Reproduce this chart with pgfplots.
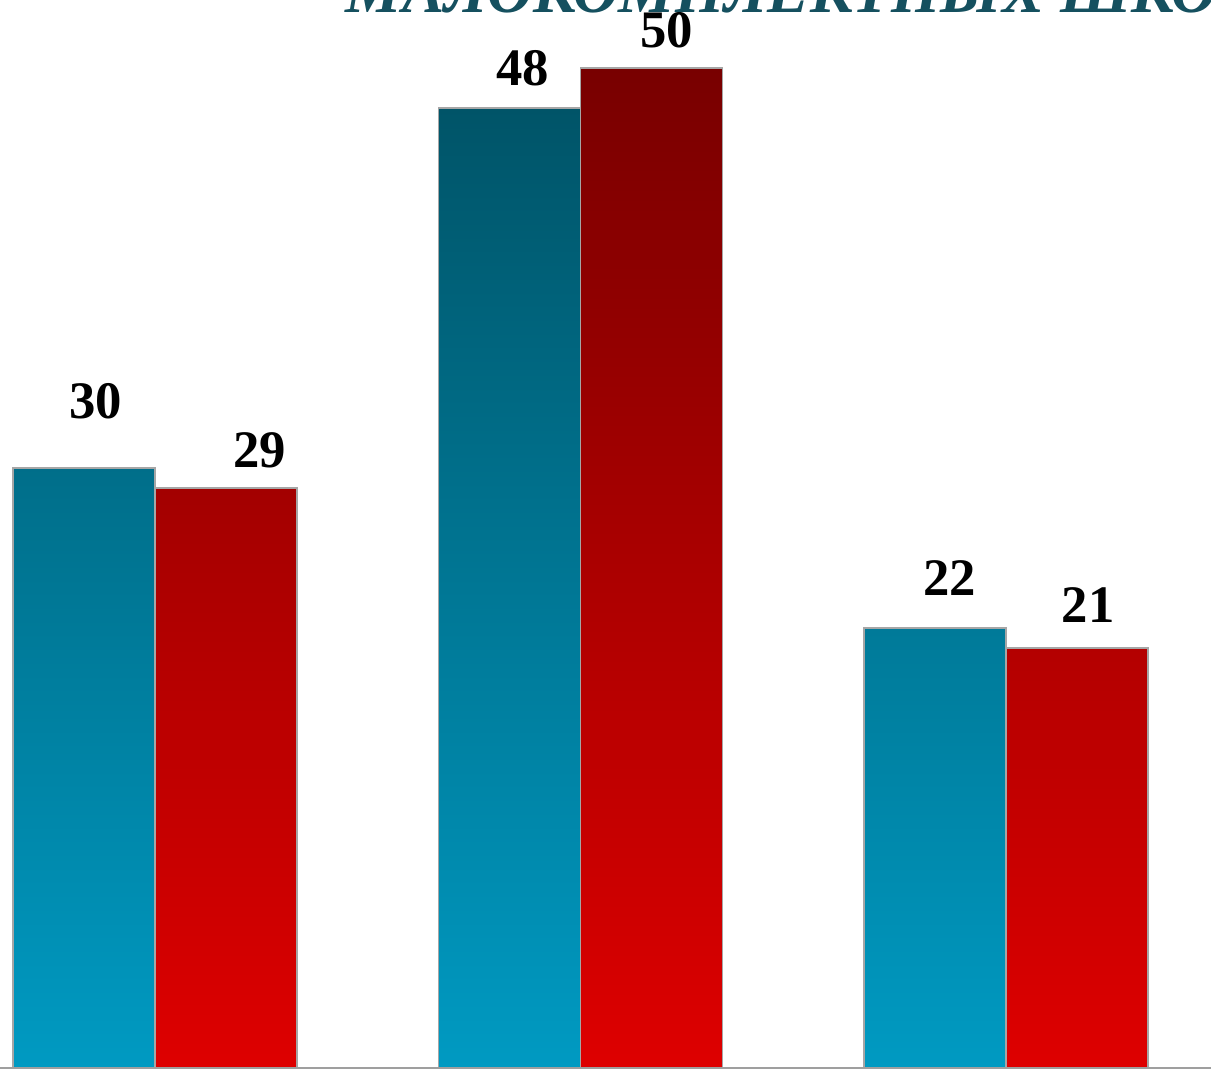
\documentclass[border=0pt]{standalone}
\usepackage{pgfplots}
\pgfplotsset{compat=1.18}
\usepackage{fontspec}
\setmainfont{Liberation Serif}

\definecolor{tealtop}{HTML}{005468}
\definecolor{tealbot}{HTML}{009AC2}
\definecolor{redtop}{HTML}{780000}
\definecolor{redbot}{HTML}{DE0000}
\definecolor{titlecol}{HTML}{15505F}

\begin{document}
\begin{tikzpicture}
  \begin{axis}[
      scale only axis,
      width=12.11cm,
      height=10.71cm,
      hide axis,
      xmin=-0.364, xmax=2.482,
      ymin=-0.15, ymax=53.4,
      ybar=0pt,
      bar width=0.3337,
      clip mode=global,
    ]
    \addplot[bar shift=-0.1669, draw=gray!70, line width=0.4pt,
             top color=tealtop, bottom color=tealbot]
      coordinates {(0,30) (1,48) (2,22)};
    \addplot[bar shift=0.1669, draw=gray!70, line width=0.4pt,
             top color=redtop, bottom color=redbot]
      coordinates {(0,29) (1,50) (2,21)};

    % baseline
    \draw[gray!75, line width=0.8pt] (axis cs:-0.364,0) -- (axis cs:2.482,0);

    % value labels
    \begin{scope}[every node/.style={font=\fontsize{15}{15}\selectfont\bfseries}]
      \node at (axis cs:-0.139,33.35) {30};
      \node at (axis cs:0.247,30.9) {29};
      \node at (axis cs:0.865,50.0) {48};
      \node at (axis cs:1.203,51.9) {50};
      \node at (axis cs:1.868,24.5) {22};
      \node at (axis cs:2.193,23.15) {21};
    \end{scope}

    % title, cut by the top edge
    \node[anchor=base west, text=titlecol, inner sep=0pt,
          font=\fontsize{18}{18}\selectfont\bfseries\itshape]
      at (axis cs:0.447,52.75) {МАЛОКОМПЛЕКТНЫХ ШКОЛ};
  \end{axis}
  \pgfresetboundingbox
  \path[use as bounding box] (current axis.south west) rectangle (current axis.north east);
\end{tikzpicture}
\end{document}
